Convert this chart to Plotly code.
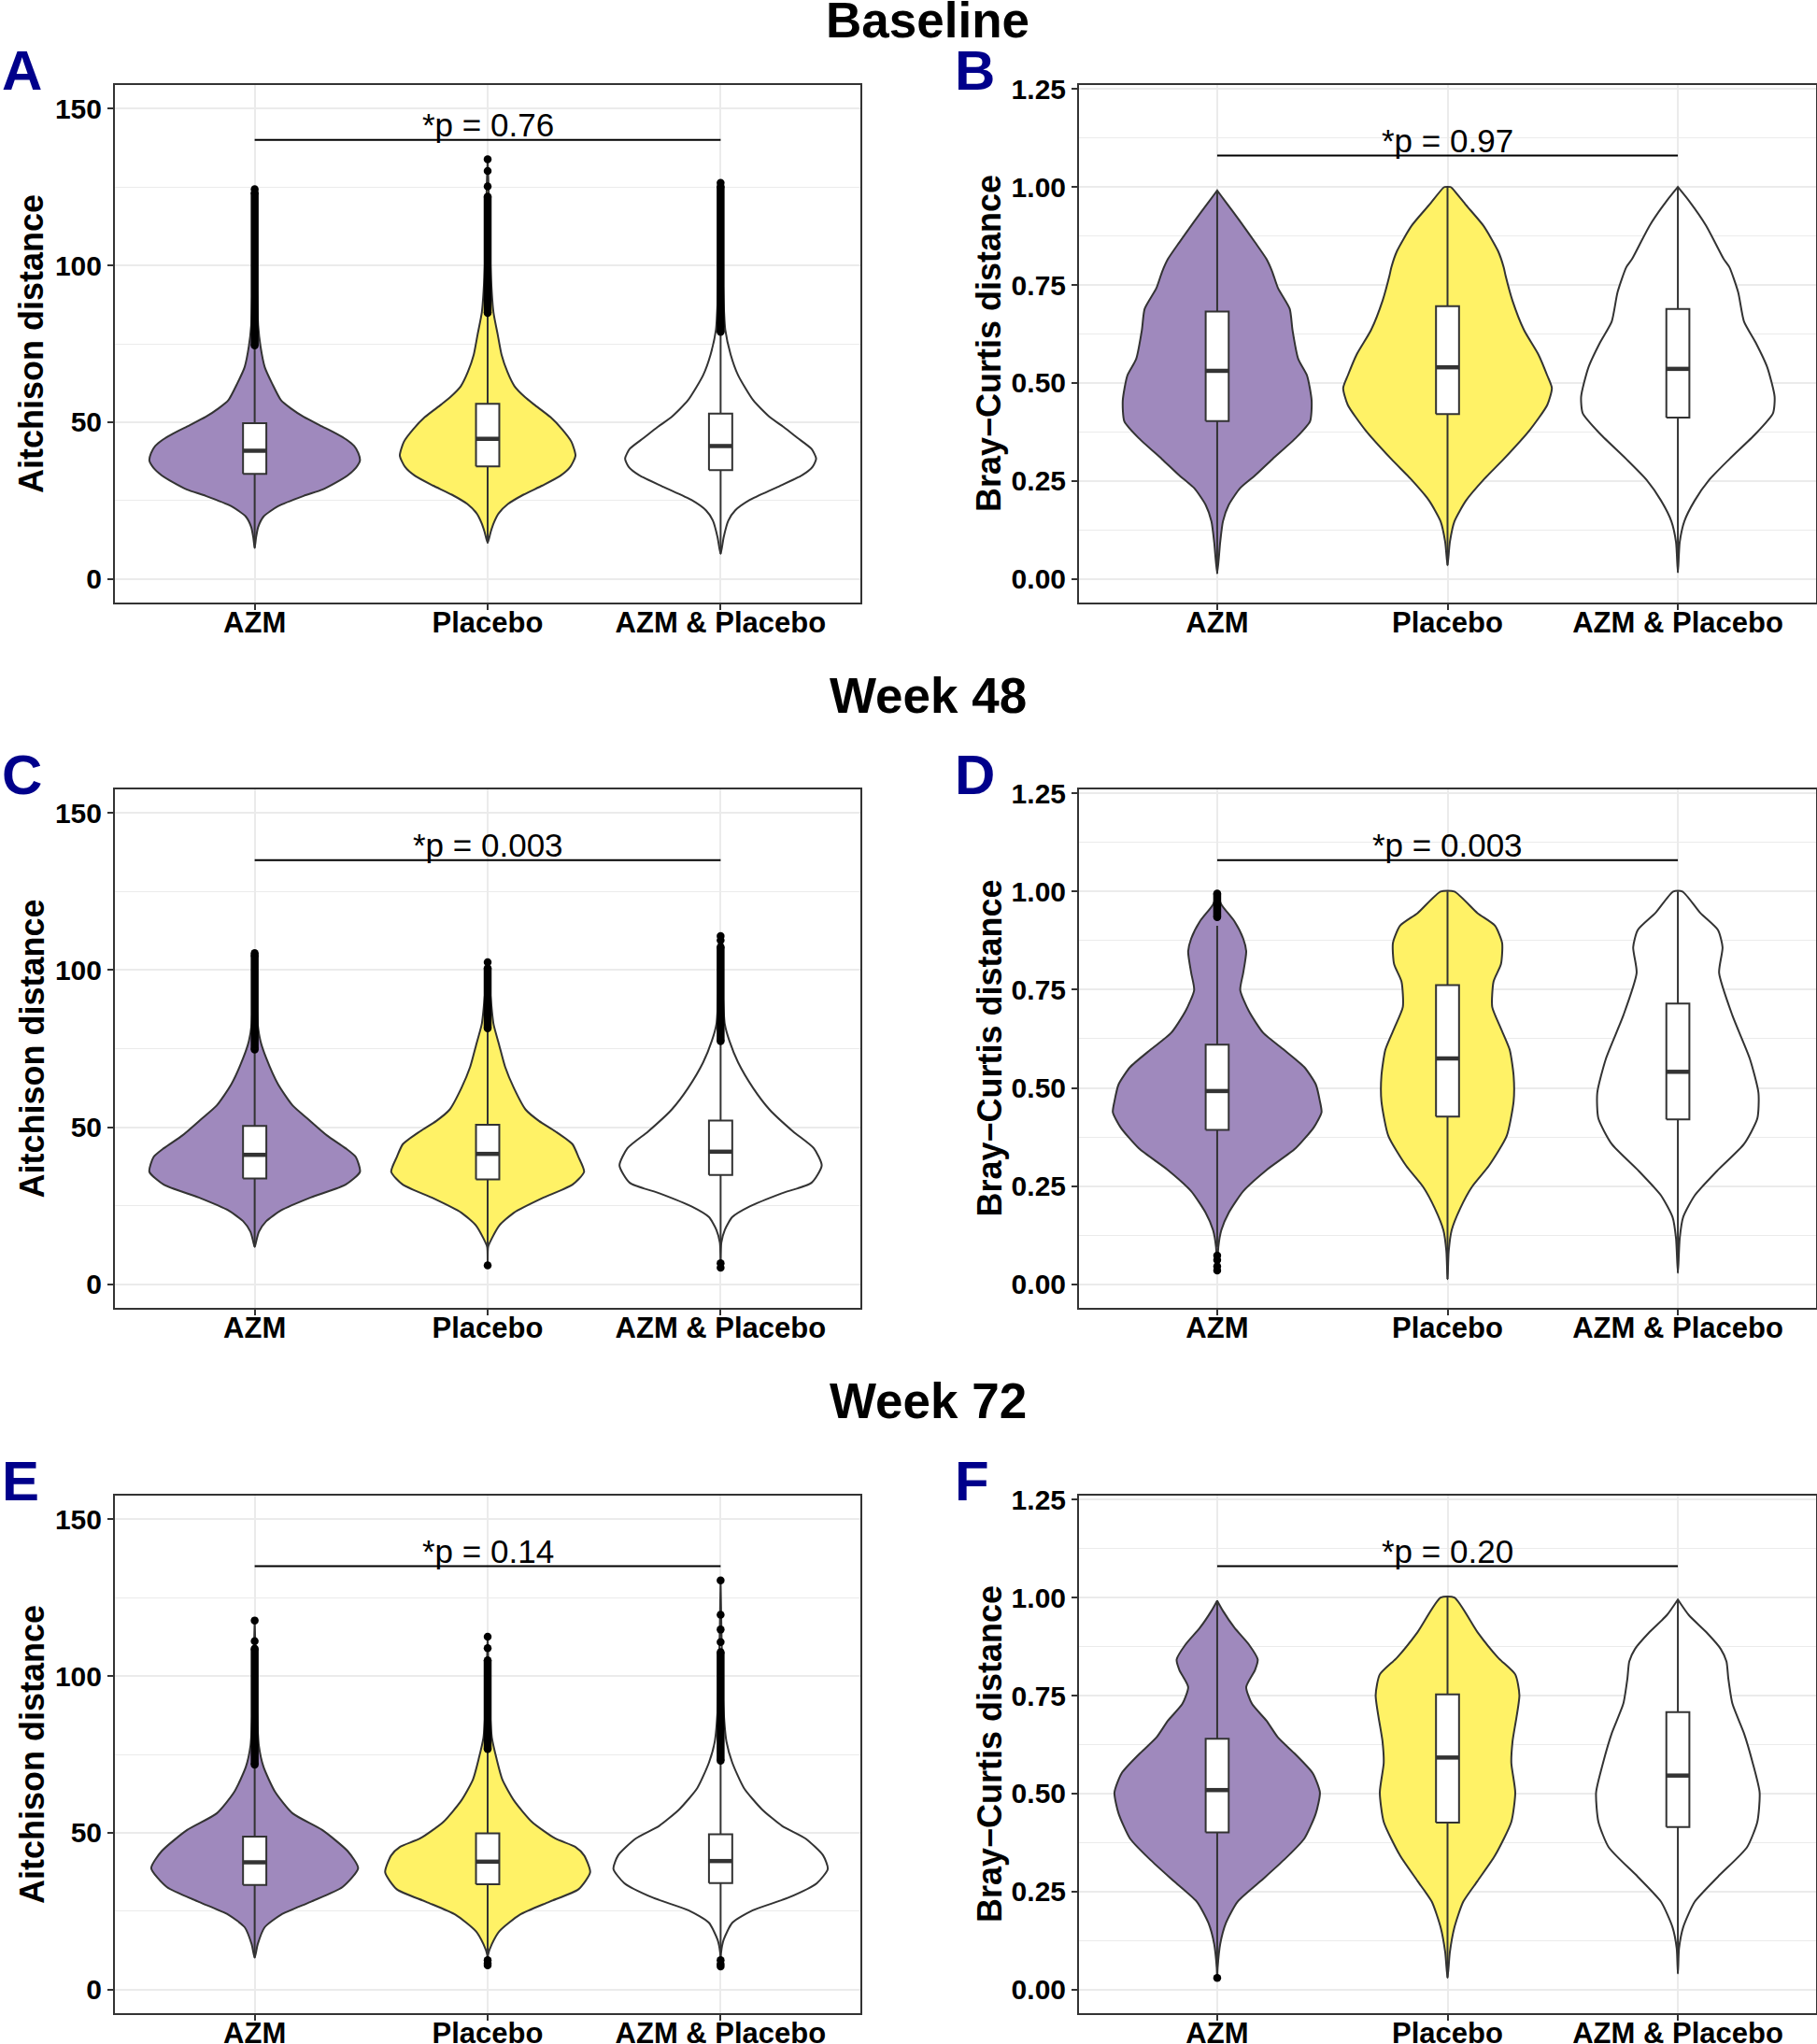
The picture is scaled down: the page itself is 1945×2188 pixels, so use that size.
import plotly.graph_objects as go

W, H = 1945, 2188
FONT = "Liberation Sans, Arial, Helvetica, sans-serif"

CATS = ["AZM", "Placebo", "AZM & Placebo"]
FILLS = ["#9F89BD", "#FFF266", "#FFFFFF"]
ROW_TITLES = ["Baseline", "Week 48", "Week 72"]
PANEL_LETTERS = ["A", "B", "C", "D", "E", "F"]
Y_TITLES = ["Aitchison distance", "Bray\u2212Curtis distance"]
P_TEXT = ["*p = 0.76", "*p = 0.97", "*p = 0.003", "*p = 0.003", "*p = 0.14", "*p = 0.20"]
P_LINE_Y = [140, 1.08, 135, 1.08, 135, 1.08]

# ---------------- violin profiles (value, half-width in category units) ----------------
A_AZM_y = [9.9, 13.3, 16.6, 19.9, 23.2, 26.5, 28.5, 30.8, 33.1, 35.5, 37.8, 40.1, 42.4, 44.4, 46.4, 49, 51.7, 54.4, 57, 62.3, 67.6, 74.2, 80.8, 91.4, 104.7, 124.3]
A_AZM_w = [0, .006, .015, .038, .10, .21, .29, .35, .40, .435, .452, .445, .427, .395, .35, .28, .21, .155, .113, .075, .043, .025, .015, .01, .006, 0]
A_PLA_y = [11.5, 15, 18, 20.9, 23.9, 26.9, 29.8, 32.8, 35.8, 39.3, 43.7, 47.7, 51.6, 55.6, 58, 61.5, 66, 71.4, 78, 85, 95, 110, 125, 133.8]
A_PLA_w = [0, .013, .027, .047, .087, .154, .235, .31, .355, .377, .36, .32, .27, .20, .16, .115, .085, .06, .043, .025, .015, .008, .004, 0]
A_AP_y = [8.0, 13.3, 18.6, 21.9, 25.2, 29.2, 33.1, 35.8, 38.4, 41.5, 45, 48.5, 51.7, 57, 65, 71.6, 79.5, 90, 105, 126.3]
A_AP_w = [0, .013, .033, .063, .125, .24, .35, .395, .41, .39, .33, .27, .21, .14, .075, .043, .02, .012, .006, 0]

B_AZM_y = [.014, .094, .147, .189, .232, .264, .306, .359, .402, .455, .519, .561, .635, .689, .742, .784, .816, .859, .912, .965, .991]
B_AZM_w = [0, .013, .025, .05, .10, .164, .24, .34, .403, .41, .39, .352, .327, .315, .264, .239, .214, .164, .10, .033, 0]
B_PLA_y = [.035, .094, .147, .20, .253, .306, .38, .444, .487, .519, .572, .635, .71, .774, .795, .837, .901, .954, .997, 1.0]
B_PLA_w = [0, .01, .03, .08, .156, .244, .357, .433, .453, .433, .395, .332, .282, .252, .244, .219, .156, .08, .02, .012]
B_AP_y = [.017, .094, .147, .20, .253, .306, .37, .423, .465, .54, .604, .657, .731, .795, .816, .901, .965, 1.0]
B_AP_w = [0, .008, .028, .073, .136, .224, .337, .413, .42, .388, .337, .287, .262, .224, .199, .123, .048, 0]

C_AZM_y = [11.9, 13.2, 16.7, 20.1, 23.5, 27.6, 31.7, 35.8, 40.5, 43.3, 47.4, 52.8, 56.9, 63.7, 71.9, 77.4, 82.8, 92, 106]
C_AZM_w = [0, .005, .018, .05, .113, .24, .39, .452, .434, .39, .31, .226, .163, .10, .05, .025, .013, .007, 0]
C_PLA_y = [6.0, 11.9, 14.6, 18.7, 22.8, 27.6, 31.7, 35.8, 40.5, 44.6, 48.7, 52, 55.6, 62.4, 69.2, 76, 82.9, 92, 102.5]
C_PLA_w = [0, .002, .018, .05, .113, .24, .364, .414, .39, .364, .29, .22, .163, .113, .075, .05, .025, .012, 0]
C_AP_y = [5.3, 13.2, 17.3, 21.4, 24.8, 28.9, 32.3, 37.8, 43.3, 48.7, 55.6, 62.4, 70.6, 77.4, 82.8, 95, 110.8]
C_AP_w = [0, .003, .018, .05, .125, .26, .39, .434, .40, .31, .21, .14, .075, .038, .018, .008, 0]

D_AZM_y = [.035, .095, .138, .182, .237, .291, .346, .40, .438, .466, .509, .553, .597, .64, .695, .749, .793, .847, .88, .924, .967, .998]
D_AZM_w = [0, .005, .018, .05, .113, .214, .34, .42, .453, .446, .428, .378, .29, .20, .138, .10, .113, .126, .113, .075, .018, 0]
D_PLA_y = [.013, .084, .138, .193, .248, .302, .378, .466, .531, .597, .651, .706, .771, .815, .869, .913, .945, 1.0]
D_PLA_w = [0, .005, .018, .055, .106, .18, .257, .287, .287, .27, .232, .194, .20, .232, .237, .206, .13, .03]
D_AP_y = [.029, .117, .171, .226, .291, .357, .422, .487, .575, .684, .793, .858, .902, .945, 1.0]
D_AP_w = [0, .008, .023, .073, .174, .287, .345, .35, .312, .237, .179, .194, .174, .098, .02]

E_AZM_y = [10.2, 14.5, 19.9, 23.9, 28, 32.7, 38.7, 44.1, 50.9, 56.2, 63, 71, 77.8, 88, 100, 117.7]
E_AZM_w = [0, .013, .043, .113, .24, .377, .444, .40, .29, .163, .088, .038, .018, .01, .006, 0]
E_PLA_y = [7.8, 11.2, 14.5, 18.6, 23.9, 28, 32, 37.4, 42.8, 45.5, 48.2, 53.5, 60.3, 67, 73.7, 80.4, 92, 112.5]
E_PLA_w = [0, .002, .018, .05, .138, .264, .39, .44, .414, .377, .29, .19, .113, .063, .038, .018, .008, 0]
E_AP_y = [7.4, 11.8, 15.9, 21.3, 25.3, 29.3, 34, 38.5, 42.8, 48.2, 52.2, 57.6, 64.3, 72.4, 79.1, 90, 105, 130.5]
E_AP_w = [0, .002, .013, .05, .138, .29, .414, .46, .44, .364, .264, .176, .10, .05, .025, .012, .006, 0]

F_AZM_y = [.030, .057, .116, .17, .224, .277, .331, .385, .449, .503, .552, .60, .643, .686, .729, .772, .815, .842, .88, .923, .966, .992]
F_AZM_w = [0, .002, .013, .038, .088, .189, .29, .378, .428, .446, .415, .34, .264, .214, .151, .126, .164, .176, .138, .075, .025, 0]
F_PLA_y = [.03, .095, .159, .224, .277, .342, .428, .503, .578, .632, .751, .804, .847, .912, 1.0]
F_PLA_w = [0, .01, .03, .068, .13, .206, .277, .294, .277, .282, .312, .294, .219, .13, .03]
F_AP_y = [.041, .105, .159, .224, .288, .363, .428, .503, .578, .654, .729, .794, .837, .869, .912, .955, .995]
F_AP_w = [0, .005, .023, .073, .174, .30, .345, .355, .325, .287, .237, .219, .211, .186, .123, .048, 0]

# ---------------- box statistics per panel: [AZM, Placebo, AZM & Placebo] ----------------
A_lo, A_q1, A_med, A_q3, A_hi = [9.9, 11.5, 8.0], [33.5, 35.9, 34.7], [40.9, 44.7, 42.4], [49.7, 55.9, 52.7], [74.5, 84.8, 78.8]
B_lo, B_q1, B_med, B_q3, B_hi = [.014, .035, .017], [.403, .421, .412], [.531, .540, .536], [.682, .696, .689], [.991, 1.0, 1.0]
C_lo, C_q1, C_med, C_q3, C_hi = [11.9, 11.9, 13.2], [33.7, 33.4, 34.8], [41.2, 41.5, 42.2], [50.4, 50.8, 52.1], [74.7, 81.5, 77.4]
D_lo, D_q1, D_med, D_q3, D_hi = [.095, .013, .029], [.393, .427, .42], [.492, .575, .541], [.61, .762, .715], [.913, 1.0, 1.0]
E_lo, E_q1, E_med, E_q3, E_hi = [10.2, 11.2, 11.8], [33.4, 33.6, 34.0], [40.6, 40.8, 41.0], [48.8, 49.8, 49.5], [71.7, 76.7, 73.0]
F_lo, F_q1, F_med, F_q3, F_hi = [.057, .03, .041], [.401, .426, .415], [.509, .592, .546], [.64, .753, .708], [.992, 1.0, .995]

# ---------------- outliers: dense runs [from, to] and single points ----------------
A_out_run = [[74.5, 123.2], [84.8, 121.9], [78.8, 125.2]]
A_out_pts = [[124.3], [125.2, 130.1, 133.8], [126.3]]
B_out_run = [None, None, None]
B_out_pts = [[], [], []]
C_out_run = [[74.7, 104.7], [81.5, 100.6], [77.4, 107.4]]
C_out_pts = [[105.4], [102.5, 6.0], [109.5, 110.8, 6.7, 5.3]]
D_out_run = [[.935, .995], None, None]
D_out_pts = [[.073, .062, .046, .035], [], []]
E_out_run = [[71.7, 108.7], [76.7, 105.0], [73.0, 107.6]]
E_out_pts = [[111.1, 117.7], [108.9, 112.5, 9.4, 8.4, 7.8], [110.8, 114.8, 119.5, 130.5, 9.4, 8.1, 7.4]]
F_out_run = [None, None, None]
F_out_pts = [[.030], [], []]

AIT_RANGE = [-7.5, 157.5]
BC_RANGE = [-0.06, 1.26]

PANELS = [
    dict(prof=[(A_AZM_y, A_AZM_w), (A_PLA_y, A_PLA_w), (A_AP_y, A_AP_w)], st=(A_lo, A_q1, A_med, A_q3, A_hi), run=A_out_run, pts=A_out_pts),
    dict(prof=[(B_AZM_y, B_AZM_w), (B_PLA_y, B_PLA_w), (B_AP_y, B_AP_w)], st=(B_lo, B_q1, B_med, B_q3, B_hi), run=B_out_run, pts=B_out_pts),
    dict(prof=[(C_AZM_y, C_AZM_w), (C_PLA_y, C_PLA_w), (C_AP_y, C_AP_w)], st=(C_lo, C_q1, C_med, C_q3, C_hi), run=C_out_run, pts=C_out_pts),
    dict(prof=[(D_AZM_y, D_AZM_w), (D_PLA_y, D_PLA_w), (D_AP_y, D_AP_w)], st=(D_lo, D_q1, D_med, D_q3, D_hi), run=D_out_run, pts=D_out_pts),
    dict(prof=[(E_AZM_y, E_AZM_w), (E_PLA_y, E_PLA_w), (E_AP_y, E_AP_w)], st=(E_lo, E_q1, E_med, E_q3, E_hi), run=E_out_run, pts=E_out_pts),
    dict(prof=[(F_AZM_y, F_AZM_w), (F_PLA_y, F_PLA_w), (F_AP_y, F_AP_w)], st=(F_lo, F_q1, F_med, F_q3, F_hi), run=F_out_run, pts=F_out_pts),
]

# layout geometry (pixels)
COL_X = [(123, 921), (1155, 1944)]
ROW_Y = [(91, 645), (845, 1400), (1601, 2155)]
BOX_HALF = 0.05
GRID = "#EBEBEB"
DARK = "#333333"

fig = go.Figure()
layout = dict(width=W, height=H, margin=dict(l=0, r=0, t=0, b=0, autoexpand=False),
              plot_bgcolor="white", paper_bgcolor="white", showlegend=False,
              font=dict(family=FONT, color="black"))
annotations = []

for i, p in enumerate(PANELS):
    row, col = divmod(i, 2)
    sfx = "" if i == 0 else str(i + 1)
    xa, ya = "x" + sfx, "y" + sfx
    x0, x1 = COL_X[col]
    y0, y1 = ROW_Y[row]
    is_bc = col == 1
    layout["xaxis" + sfx] = dict(
        domain=[x0 / W, x1 / W], anchor=ya, range=[0.4, 3.6], automargin=False,
        tickvals=[1, 2, 3], ticktext=CATS, showgrid=True, gridcolor=GRID, gridwidth=2,
        zeroline=False, ticks="outside", ticklen=6, tickwidth=2, tickcolor=DARK,
        showline=True, linecolor=DARK, linewidth=2, mirror=True, ticklabelstandoff=-13,
        tickfont=dict(size=31, family=FONT, color="black", weight="bold"))
    layout["yaxis" + sfx] = dict(
        domain=[1 - y1 / H, 1 - y0 / H], anchor=xa, automargin=False,
        range=BC_RANGE if is_bc else AIT_RANGE,
        tick0=0, dtick=0.25 if is_bc else 50, tickformat=".2f" if is_bc else "d",
        minor=dict(tick0=0, dtick=0.125 if is_bc else 25, showgrid=True, gridcolor=GRID, gridwidth=1.3),
        showgrid=True, gridcolor=GRID, gridwidth=2.2, zeroline=False,
        ticks="outside", ticklen=6, tickwidth=2, tickcolor=DARK,
        showline=True, linecolor=DARK, linewidth=2, mirror=True,
        tickfont=dict(size=30, family=FONT, color="black", weight="bold"))

    lo, q1, med, q3, hi = p["st"]
    for j in range(3):
        pos = j + 1
        ys, ws = p["prof"][j]
        vx = [pos + w for w in ws] + [pos - w for w in reversed(ws)]
        vy = list(ys) + list(reversed(ys))
        fig.add_trace(go.Scatter(x=vx, y=vy, xaxis=xa, yaxis=ya, mode="lines", fill="toself",
                                 fillcolor=FILLS[j], line=dict(color=DARK, width=2, shape="spline", smoothing=0.6),
                                 hoverinfo="skip"))
        # whisker
        fig.add_trace(go.Scatter(x=[pos, pos], y=[lo[j], hi[j]], xaxis=xa, yaxis=ya, mode="lines",
                                 line=dict(color=DARK, width=2), hoverinfo="skip"))
        # box
        bx = [pos - BOX_HALF, pos + BOX_HALF, pos + BOX_HALF, pos - BOX_HALF, pos - BOX_HALF]
        by = [q1[j], q1[j], q3[j], q3[j], q1[j]]
        fig.add_trace(go.Scatter(x=bx, y=by, xaxis=xa, yaxis=ya, mode="lines", fill="toself",
                                 fillcolor="white", line=dict(color=DARK, width=2), hoverinfo="skip"))
        fig.add_trace(go.Scatter(x=[pos - BOX_HALF, pos + BOX_HALF], y=[med[j], med[j]], xaxis=xa, yaxis=ya,
                                 mode="lines", line=dict(color=DARK, width=4.5), hoverinfo="skip"))
        # outliers
        run = p["run"][j]
        if run is not None:
            fig.add_trace(go.Scatter(x=[pos, pos], y=run, xaxis=xa, yaxis=ya, mode="lines+markers",
                                     line=dict(color="black", width=8.5), marker=dict(color="black", size=8.5),
                                     hoverinfo="skip"))
        if p["pts"][j]:
            fig.add_trace(go.Scatter(x=[pos] * len(p["pts"][j]), y=p["pts"][j], xaxis=xa, yaxis=ya, mode="markers",
                                     marker=dict(color="black", size=8.5), hoverinfo="skip"))

    # significance bracket
    fig.add_trace(go.Scatter(x=[1, 3], y=[P_LINE_Y[i]] * 2, xaxis=xa, yaxis=ya, mode="lines",
                             line=dict(color="black", width=2), hoverinfo="skip"))
    annotations.append(dict(x=2, y=P_LINE_Y[i], xref=xa, yref=ya, text=P_TEXT[i], showarrow=False,
                            xanchor="center", yanchor="bottom", yshift=-5,
                            font=dict(size=35, family=FONT, color="black")))

    # panel letter
    lx = 0 if col == 0 else 1020
    annotations.append(dict(x=lx / W, y=1 - (y0 - 16) / H, xref="paper", yref="paper",
                            text="<b>%s</b>" % PANEL_LETTERS[i], showarrow=False,
                            xanchor="left", yanchor="middle",
                            font=dict(size=60, family=FONT, color="#00008B")))
    # y axis title
    tx = 34 if col == 0 else 1059
    annotations.append(dict(x=tx / W, y=1 - ((y0 + y1) / 2) / H, xref="paper", yref="paper",
                            text="<b>%s</b>" % Y_TITLES[col], showarrow=False, textangle=-90,
                            xanchor="center", yanchor="middle",
                            font=dict(size=36, family=FONT, color="black")))

for r, t in enumerate(ROW_TITLES):
    cy = [22, 744, 1499][r]
    annotations.append(dict(x=993 / W, y=1 - cy / H, xref="paper", yref="paper",
                            text="<b>%s</b>" % t, showarrow=False, xanchor="center", yanchor="middle",
                            font=dict(size=53, family=FONT, color="black")))

layout["annotations"] = annotations
fig.update_layout(**layout)

PAGE_FIX = ("var d=document.getElementById('{plot_id}');"
            "document.documentElement.style.margin='0';document.body.style.margin='0';"
            "document.documentElement.style.overflow='hidden';document.body.style.overflow='hidden';"
            "d.style.position='absolute';d.style.left='0px';d.style.top='0px';")
fig.write_html("out.html", config={"displayModeBar": False}, post_script=PAGE_FIX)
